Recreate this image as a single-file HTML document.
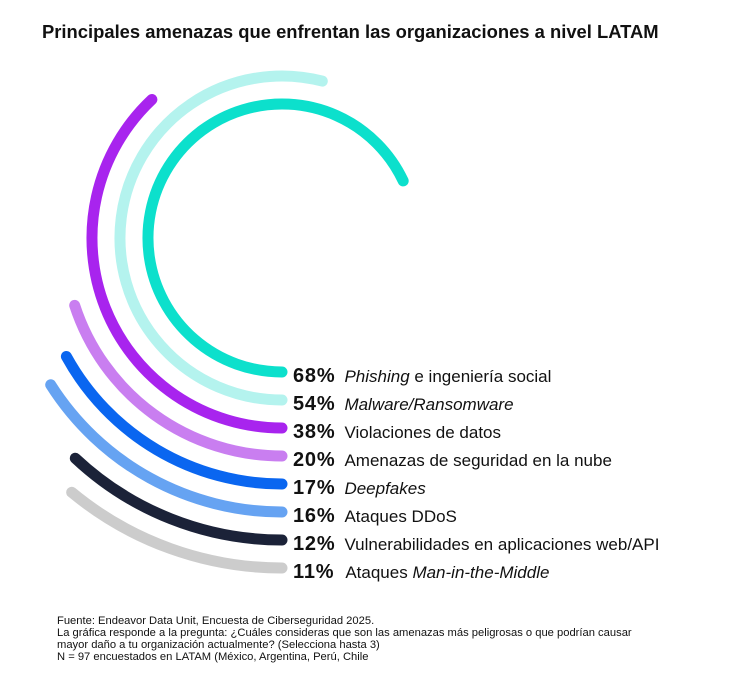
<!DOCTYPE html>
<html><head><meta charset="utf-8"><style>
body{margin:0;background:#fff;width:730px;height:674px;overflow:hidden;font-family:"Liberation Sans",sans-serif;}
svg{position:absolute;left:0;top:0}
</style></head><body>
<svg width="730" height="674" viewBox="0 0 730 674" xmlns="http://www.w3.org/2000/svg" font-family="Liberation Sans, sans-serif">
<text x="42" y="38" font-size="18.4" font-weight="bold" fill="#111">Principales amenazas que enfrentan las organizaciones a nivel LATAM</text>
<g fill="none" stroke-width="11" stroke-linecap="round">
<path d="M282 372 A134 134 0 1 1 403.2 180.9" stroke="#0ce0cc"/>
<path d="M282 400 A162 162 0 1 1 322.3 81.1" stroke="#b4f3ee"/>
<path d="M282 428 A190 190 0 0 1 151.9 99.5" stroke="#a824ee"/>
<path d="M282 456 A218 218 0 0 1 74.7 305.4" stroke="#c97ef0"/>
<path d="M282 484 A246 246 0 0 1 66.4 356.5" stroke="#0a66f0"/>
<path d="M282 512 A274 274 0 0 1 50.7 384.8" stroke="#66a3f2"/>
<path d="M282 540 A302 302 0 0 1 75.3 458.2" stroke="#1b2238"/>
<path d="M282 568 A330 330 0 0 1 71.7 492.3" stroke="#cccccc"/>
</g>
<g font-size="17" fill="#111">
<text x="293" y="382"><tspan font-weight="bold" font-size="20" letter-spacing="0.8">68%</tspan><tspan dx="9" font-style="italic">Phishing</tspan> e ingeniería social</text>
<text x="293" y="410"><tspan font-weight="bold" font-size="20" letter-spacing="0.8">54%</tspan><tspan dx="9" font-style="italic">Malware/Ransomware</tspan></text>
<text x="293" y="438"><tspan font-weight="bold" font-size="20" letter-spacing="0.8">38%</tspan><tspan dx="9">Violaciones de datos</tspan></text>
<text x="293" y="466"><tspan font-weight="bold" font-size="20" letter-spacing="0.8">20%</tspan><tspan dx="9">Amenazas de seguridad en la nube</tspan></text>
<text x="293" y="494"><tspan font-weight="bold" font-size="20" letter-spacing="0.8">17%</tspan><tspan dx="9" font-style="italic">Deepfakes</tspan></text>
<text x="293" y="522"><tspan font-weight="bold" font-size="20" letter-spacing="0.8">16%</tspan><tspan dx="9">Ataques DDoS</tspan></text>
<text x="293" y="550"><tspan font-weight="bold" font-size="20" letter-spacing="0.8">12%</tspan><tspan dx="9">Vulnerabilidades en aplicaciones web/API</tspan></text>
<text x="293" y="578"><tspan font-weight="bold" font-size="20" letter-spacing="0.8">11%</tspan><tspan dx="11">Ataques </tspan><tspan font-style="italic">Man-in-the-Middle</tspan></text>
</g>
<g font-size="11.2" fill="#111">
<text x="57" y="624">Fuente: Endeavor Data Unit, Encuesta de Ciberseguridad 2025.</text>
<text x="57" y="636">La gráfica responde a la pregunta:  ¿Cuáles consideras que son las amenazas más peligrosas o que podrían causar</text>
<text x="57" y="648">mayor daño a tu organización actualmente? (Selecciona hasta 3)</text>
<text x="57" y="660">N = 97 encuestados en LATAM (México, Argentina, Perú, Chile</text>
</g>
</svg>
</body></html>
